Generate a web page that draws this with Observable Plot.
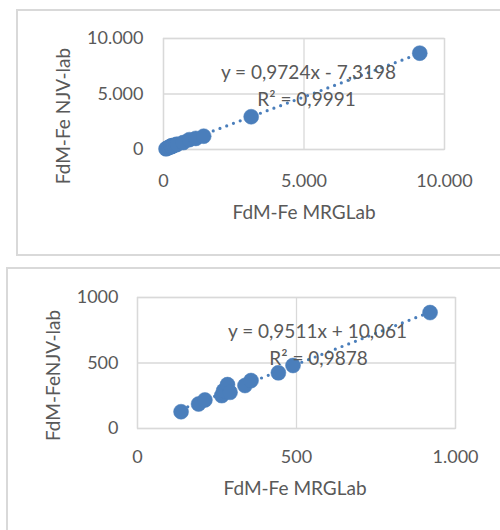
<!DOCTYPE html>
<html><head><meta charset="utf-8">
<script src="https://cdn.jsdelivr.net/npm/d3@7"></script>
<script src="https://cdn.jsdelivr.net/npm/@observablehq/plot@0.6"></script>
<style>
body{margin:0;width:500px;height:530px;overflow:hidden;background:#fff;position:relative;font-family:Lato,sans-serif}
.panel{position:absolute;border:2px solid #d9d9d9;box-sizing:border-box}
#p1{left:16px;top:9px;width:520px;height:247px}
#p2{left:6px;top:267px;width:520px;height:290px}
.chart{position:absolute;left:0}
#c1{top:0}
#c2{top:260px}
</style></head><body>
<div class="panel" id="p1"></div><div class="panel" id="p2"></div>
<div class="chart" id="c1"></div><div class="chart" id="c2"></div>
<script>
// ---- data ----
const topMRG = [90, 137, 192, 212, 265, 271, 283, 291, 338, 357, 443, 489, 700, 920, 1150, 1430, 3120, 9120];
const topNJV = [60, 128, 187, 218, 251, 289, 335, 276, 328, 366, 425, 481, 620, 885, 1000, 1200, 2950, 8680];
const bottomMRG = [137, 192, 212, 265, 271, 283, 291, 338, 357, 443, 489, 920];
const bottomNJV = [128, 187, 218, 251, 289, 335, 276, 328, 366, 425, 481, 885];
const topTicks = [0, 5000, 10000];
const topTickLabels = ["0", "5.000", "10.000"];
const bottomTicks = [0, 500, 1000];
const bottomXTickLabels = ["0", "500", "1.000"];
const bottomYTickLabels = ["0", "500", "1000"];
const xTitle = "FdM-Fe MRGLab";
const yTitleTop = "FdM-Fe NJV-lab";
const yTitleBottom = "FdM-FeNJV-lab";
const topEquation = ["y = 0,9724x - 7,3198", "R² = 0,9991"];
const bottomEquation = ["y = 0,9511x + 10,061", "R² = 0,9878"];

const blue = "#4a7ebb", grey = "#d9d9d9", txt = "#595959";

function panel({xs, ys, ticks, xLabels, yLabels, yTitle, eq, width, height, margins, eqOff, titleOff, tickPad}) {
  const data = xs.map((x, i) => ({x, y: ys[i]}));
  const fmt = (labels) => (d) => labels[ticks.indexOf(d)];
  return Plot.plot({
    width, height, ...margins,
    style: {fontFamily: "Lato, sans-serif", color: txt, background: "transparent", overflow: "visible"},
    x: {domain: [ticks[0], ticks[ticks.length - 1]]},
    y: {domain: [ticks[0], ticks[ticks.length - 1]]},
    marks: [
      Plot.gridX(ticks, {stroke: grey, strokeOpacity: 1, strokeWidth: 1.3}),
      Plot.gridY(ticks, {stroke: grey, strokeOpacity: 1, strokeWidth: 1.3}),
      Plot.frame({stroke: grey, strokeWidth: 1.3}),
      Plot.axisX(ticks, {tickSize: 0, tickPadding: tickPad.x, tickFormat: fmt(xLabels), fontSize: 18, fill: txt, label: null}),
      Plot.axisY(ticks, {tickSize: 0, tickPadding: tickPad.y, tickFormat: fmt(yLabels), fontSize: 18, fill: txt, label: null}),
      Plot.linearRegressionY(data, {x: "x", y: "y", ci: 0, stroke: blue, strokeWidth: 3.2, strokeDasharray: "0 7.2", strokeLinecap: "round"}),
      Plot.dot(data, {x: "x", y: "y", r: 7.5, fill: blue, stroke: blue, strokeWidth: 0.5}),
      Plot.text([eq[0]], {text: d => d, frameAnchor: "top", lineAnchor: "middle", dx: eqOff.dx1, dy: eqOff.dy1, fontSize: 19, fill: txt}),
      Plot.text([eq[1]], {text: d => d, frameAnchor: "top", lineAnchor: "middle", dx: eqOff.dx2, dy: eqOff.dy2, fontSize: 19, fill: txt}),
      Plot.text([xTitle], {text: d => d, frameAnchor: "bottom", lineAnchor: "middle", textAnchor: "middle", dx: titleOff.xdx, dy: titleOff.xdy, fontSize: 19, fill: txt}),
      Plot.text([yTitle], {text: d => d, frameAnchor: "left", lineAnchor: "middle", textAnchor: "middle", rotate: -90, dx: titleOff.ydx, dy: titleOff.ydy, fontSize: 19, fill: txt})
    ]
  });
}

document.getElementById("c1").append(panel({
  xs: topMRG, ys: topNJV, ticks: topTicks, xLabels: topTickLabels, yLabels: topTickLabels,
  yTitle: yTitleTop, eq: topEquation, width: 500, height: 260,
  margins: {marginLeft: 163, marginRight: 56, marginTop: 38, marginBottom: 111},
  eqOff: {dx1: 4.5, dy1: 34, dx2: 2.5, dy2: 61},
  titleOff: {xdx: 0, xdy: 63, ydx: -100, ydy: 22},
  tickPad: {x: 25, y: 20}
}));

document.getElementById("c2").append(panel({
  xs: bottomMRG, ys: bottomNJV, ticks: bottomTicks, xLabels: bottomXTickLabels, yLabels: bottomYTickLabels,
  yTitle: yTitleBottom, eq: bottomEquation, width: 500, height: 270,
  margins: {marginLeft: 137, marginRight: 45, marginTop: 37, marginBottom: 102},
  eqOff: {dx1: 21, dy1: 34.5, dx2: 22, dy2: 61},
  titleOff: {xdx: -1.5, xdy: 60, ydx: -84, ydy: 12.5},
  tickPad: {x: 22, y: 19}
}));
</script>
</body></html>
